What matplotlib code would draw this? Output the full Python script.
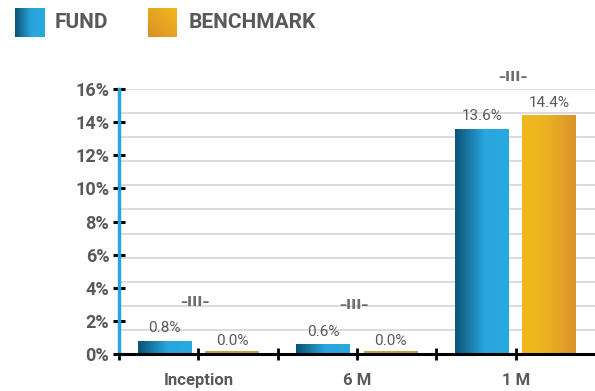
import matplotlib.pyplot as plt
import numpy as np
import matplotlib.transforms as mtransforms
from matplotlib.colors import LinearSegmentedColormap

plt.rcParams["font.family"] = ["Roboto", "DejaVu Sans"]

categories = ["Inception", "6 M", "1 M"]
fund = [0.8, 0.6, 13.6]
benchmark = [0.0, 0.0, 14.4]
y_ticks = [0, 2, 4, 6, 8, 10, 12, 14, 16]

TEXT = "#58595b"
fund_cmap = LinearSegmentedColormap.from_list(
    "fund", [(0, "#0a5274"), (0.55, "#29a6de"), (1, "#2aa8e0")]
)
bench_cmap = LinearSegmentedColormap.from_list(
    "bench", [(0, "#f0b81e"), (0.35, "#efb520"), (1, "#da952b")]
)
grad = np.linspace(0, 1, 256).reshape(1, -1)

fig = plt.figure(figsize=(5.95, 3.91), dpi=100)
ax = fig.add_axes([0.2, 0.0946, 0.8, 0.6778])

x = np.arange(len(categories))
w = 0.34
off = 0.213
lift = mtransforms.offset_copy(ax.transData, fig=fig, x=0, y=1.6, units="dots")


def gradient_bars(xs, vals, cmap, zero_color):
    bars = ax.bar(xs, vals, width=w, color="none", linewidth=0, zorder=3)
    for b, v in zip(bars, vals):
        x0, y0 = b.get_x(), b.get_y()
        if v == 0:
            # flat bar: only a thin line sitting on the axis
            ax.plot([x0, x0 + b.get_width()], [0, 0], color=zero_color, lw=1.2,
                    zorder=6, solid_capstyle="butt", transform=lift)
            continue
        im = ax.imshow(grad, extent=[x0, x0 + b.get_width(), y0, y0 + v],
                       cmap=cmap, aspect="auto", zorder=3, interpolation="bicubic")
        im.set_clip_path(b)
    return bars


gradient_bars(x - off, fund, fund_cmap, "#1f86b8")
gradient_bars(x + off, benchmark, bench_cmap, "#c08a26")

for xi, v in zip(x - off, fund):
    ax.annotate(f"{v:.1f}%", (xi, v), xytext=(0, 4), textcoords="offset points",
                ha="center", va="bottom", fontsize=11, color=TEXT)
for xi, v in zip(x + off, benchmark):
    ax.annotate(f"{v:.1f}%", (xi, v), xytext=(0, 4), textcoords="offset points",
                ha="center", va="bottom", fontsize=11, color=TEXT)

# odd little marker above each group
for xi, a, b in zip(x, fund, benchmark):
    top = max(a, b)
    ax.text(xi - 0.02, top + 2.35, "\u2013III\u2013", ha="center", va="center",
            fontsize=10, fontweight="bold", color="#6d6e70", clip_on=False,
            family="DejaVu Sans")

ax.set_xlim(-0.5, 2.5)
ax.set_ylim(0, 16)

for yg in np.linspace(0, 16, 12)[1:]:
    ax.axhline(yg, color="#d9d9d9", lw=1.3, zorder=1)

ax.set_yticks(y_ticks)
ax.set_yticklabels([f"{t}%" for t in y_ticks], fontsize=13, fontweight="bold",
                   color=TEXT)
ax.set_xticks(x)
ax.set_xticklabels(categories, fontsize=12, fontweight="bold", color=TEXT)
ax.set_xticks([-0.5, 0.5, 1.5], minor=True)
ax.tick_params(axis="y", direction="inout", length=8, width=2.2, color="black", pad=3)
ax.tick_params(axis="x", which="both", direction="inout", length=8, width=2,
               color="black", pad=10)

for s in ["top", "right"]:
    ax.spines[s].set_visible(False)
ax.spines["left"].set_color("#29a6de")
ax.spines["left"].set_linewidth(2.5)
ax.spines["bottom"].set_color("black")
ax.spines["bottom"].set_linewidth(2.2)
ax.spines["bottom"].set_zorder(5)

# legend at the top
lax = fig.add_axes([0.0252, 0.905, 0.0504, 0.0742])
lax.imshow(grad, cmap=fund_cmap, aspect="auto", interpolation="bicubic")
lax.axis("off")
diag = (np.linspace(0, 1, 64)[None, :] + np.linspace(0, 1, 64)[:, None]) / 2
lax2 = fig.add_axes([0.2487, 0.905, 0.0487, 0.0742])
lax2.imshow(diag, cmap=LinearSegmentedColormap.from_list(
    "lg", ["#d98f2a", "#e6a522", "#f0b81c"]), aspect="auto", origin="lower")
lax2.axis("off")
fig.text(0.0924, 0.943, "FUND", fontsize=15, fontweight="bold", color=TEXT,
         va="center")
fig.text(0.3176, 0.943, "BENCHMARK", fontsize=15, fontweight="bold", color=TEXT,
         va="center")

fig.savefig("out.png", dpi=100)
